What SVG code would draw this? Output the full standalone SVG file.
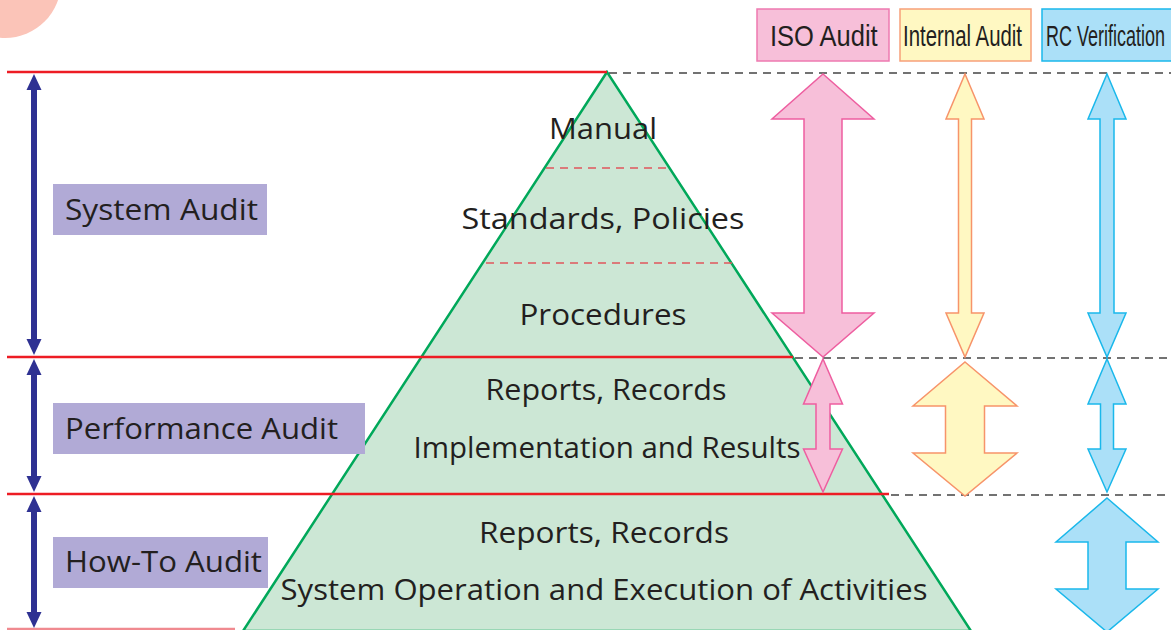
<svg xmlns="http://www.w3.org/2000/svg" width="1171" height="630" viewBox="0 0 1171 630">
<defs>
<style>
.t{font-family:"Open Sans","Noto Sans","DejaVu Sans",sans-serif;font-size:29px;fill:#231f20;text-anchor:middle}
.tl{font-family:"Open Sans","Noto Sans","DejaVu Sans",sans-serif;font-size:29px;fill:#231f20}
.th{font-family:"Liberation Sans","Arial",sans-serif;font-size:30px;fill:#231f20}
.red{stroke:#ed1c24;stroke-width:2.5;fill:none}
.dash{stroke:#444;stroke-width:1.5;stroke-dasharray:8,6;fill:none}
.rdash{stroke:#e0575c;stroke-width:1.5;stroke-dasharray:8,6;fill:none}
.lab{fill:#b1aad6}
.pink{fill:#f7bfd9;stroke:#ee5ea0;stroke-width:1.5}
.yel{fill:#fff8c2;stroke:#f7946a;stroke-width:1.5}
.blue{fill:#abe0f8;stroke:#1ab8eb;stroke-width:1.5}
.navy{fill:#2e3192}
</style>
</defs>
<rect width="1171" height="630" fill="#ffffff"/>
<circle cx="5" cy="-18" r="56" fill="#fbc4b8"/>

<g id="pyramid">
<polygon points="607,72 243,631 971,631" fill="#cce7d5" stroke="#00a85a" stroke-width="2.5"/>
<line class="rdash" x1="546" y1="168" x2="668" y2="168"/>
<line class="rdash" x1="486" y1="263" x2="732" y2="263"/>
</g>

<g id="connectors">
<line class="red" x1="7" y1="72" x2="607" y2="72"/>
<line class="red" x1="7" y1="357" x2="793" y2="357"/>
<line class="red" x1="7" y1="494" x2="889" y2="494"/>
<line x1="7" y1="629" x2="235" y2="629" stroke="#f08a90" stroke-width="2.5"/>
<line class="dash" x1="609" y1="73" x2="1171" y2="73"/>
<line class="dash" x1="795" y1="358" x2="1171" y2="358"/>
<line class="dash" x1="891" y1="495" x2="1171" y2="495"/>
<path class="navy" d="M34,74 L41.5,90 L37,90 L37,339 L41.5,339 L34,355 L26.5,339 L31,339 L31,90 L26.5,90 Z"/>
<path class="navy" d="M34,359 L41.5,375 L37,375 L37,476 L41.5,476 L34,492 L26.5,476 L31,476 L31,375 L26.5,375 Z"/>
<path class="navy" d="M34,496 L41.5,512 L37,512 L37,612 L41.5,612 L34,628 L26.5,612 L31,612 L31,512 L26.5,512 Z"/>
<path class="pink" d="M823,74 L874,119 L842,119 L842,313 L874,313 L823,357 L772,313 L804,313 L804,119 L772,119 Z"/>
<path class="pink" d="M823,359 L842.5,404 L830,404 L830,449 L842.5,449 L823,492 L803.5,449 L816,449 L816,404 L803.5,404 Z"/>
<path class="yel" d="M965,74 L984,119 L971.5,119 L971.5,313 L984,313 L965,357 L946,313 L958.5,313 L958.5,119 L946,119 Z"/>
<path class="yel" d="M965,362 L1017,406 L984.5,406 L984.5,453 L1017,453 L965,496 L913,453 L945.5,453 L945.5,406 L913,406 Z"/>
<path class="blue" d="M1107,74 L1126,119 L1114,119 L1114,313 L1126,313 L1107,357 L1088,313 L1100,313 L1100,119 L1088,119 Z"/>
<path class="blue" d="M1107,359 L1126,404 L1113.5,404 L1113.5,449 L1126,449 L1107,492 L1088,449 L1100.5,449 L1100.5,404 L1088,404 Z"/>
<path class="blue" d="M1107,498 L1158,542 L1126,542 L1126,589 L1158,589 L1107,632 L1056,589 L1088,589 L1088,542 L1056,542 Z"/>
</g>

<g id="pyramid-labels">
<text class="t" x="603" y="139" textLength="108" lengthAdjust="spacingAndGlyphs">Manual</text>
<text class="t" x="603" y="229" textLength="283" lengthAdjust="spacingAndGlyphs">Standards, Policies</text>
<text class="t" x="603" y="325" textLength="167" lengthAdjust="spacingAndGlyphs">Procedures</text>
<text class="t" x="606" y="400" textLength="241" lengthAdjust="spacingAndGlyphs">Reports, Records</text>
<text class="t" x="607" y="458" textLength="387" lengthAdjust="spacingAndGlyphs">Implementation and Results</text>
<text class="t" x="604" y="543" textLength="250" lengthAdjust="spacingAndGlyphs">Reports, Records</text>
<text class="t" x="604" y="600" textLength="647" lengthAdjust="spacingAndGlyphs">System Operation and Execution of Activities</text>
</g>

<g id="system-audit">
<rect class="lab" x="53" y="184" width="214" height="51"/>
<text class="tl" x="65" y="220" textLength="193" lengthAdjust="spacingAndGlyphs">System Audit</text>
</g>
<g id="performance-audit">
<rect class="lab" x="53" y="403" width="312" height="51"/>
<text class="tl" x="65" y="439" textLength="273" lengthAdjust="spacingAndGlyphs">Performance Audit</text>
</g>
<g id="howto-audit">
<rect class="lab" x="53" y="537" width="215" height="51"/>
<text class="tl" x="65" y="572" textLength="197" lengthAdjust="spacingAndGlyphs">How-To Audit</text>
</g>

<g id="iso-audit">
<rect x="757" y="9" width="132" height="52" fill="#f7bfd9" stroke="#ee7ab0" stroke-width="1.5"/>
<text class="th" transform="translate(770,46) scale(0.85,1)">ISO Audit</text>
</g>
<g id="internal-audit">
<rect x="900" y="9" width="131" height="52" fill="#fff8c2" stroke="#f7a07a" stroke-width="1.5"/>
<text class="th" transform="translate(903,46) scale(0.68,1)">Internal Audit</text>
</g>
<g id="rc-verification">
<rect x="1042" y="9" width="132" height="52" fill="#abe0f8" stroke="#1ab8eb" stroke-width="1.5"/>
<text class="th" transform="translate(1046,46) scale(0.6,1)">RC Verification</text>
</g>
</svg>
